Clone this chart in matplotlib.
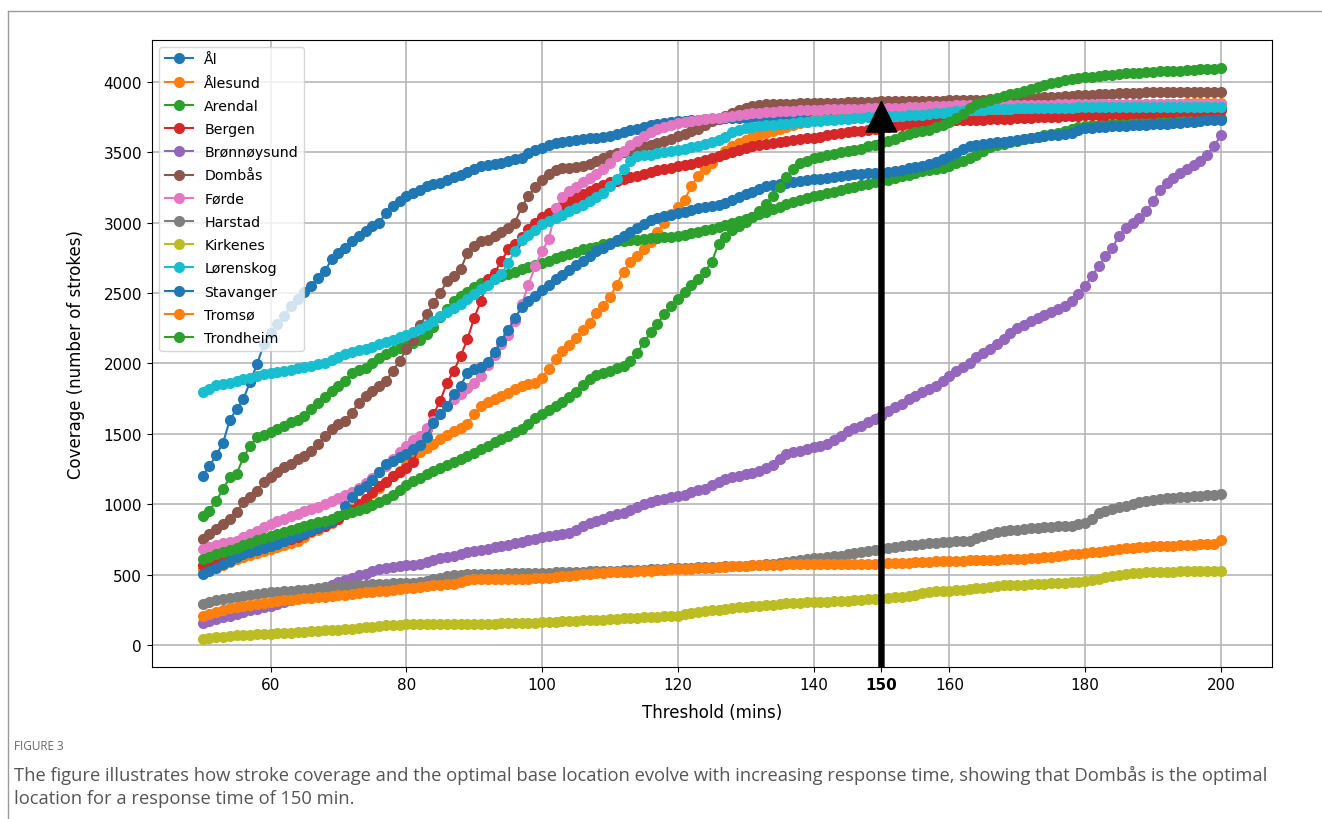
import numpy as np
import matplotlib
matplotlib.use('Agg')
from matplotlib import pyplot as plt
from matplotlib.lines import Line2D

minutes = np.arange(50, 201)

stations = ['Ål', 'Ålesund', 'Arendal', 'Bergen', 'Brønnøysund', 'Dombås', 'Førde',
            'Harstad', 'Kirkenes', 'Lørenskog', 'Stavanger', 'Tromsø', 'Trondheim']

# coverage (number of strokes) per threshold minute, 50..200
al = [1204, 1274, 1350, 1437, 1600, 1676, 1747, 1872, 1994, 2136,
      2219, 2278, 2337, 2407, 2455, 2507, 2549, 2608, 2655, 2738,
      2785, 2820, 2868, 2903, 2938, 2974, 2998, 3068, 3115, 3151,
      3186, 3210, 3233, 3257, 3270, 3281, 3300, 3320, 3340, 3360,
      3380, 3398, 3408, 3416, 3424, 3440, 3450, 3460, 3490, 3517,
      3530, 3550, 3564, 3570, 3578, 3585, 3590, 3597, 3603, 3608,
      3613, 3625, 3640, 3655, 3665, 3675, 3690, 3698, 3705, 3712,
      3717, 3722, 3727, 3730, 3733, 3736, 3738, 3740, 3742, 3744,
      3745, 3747, 3748, 3750, 3751, 3752, 3754, 3755, 3757, 3758,
      3760, 3761, 3763, 3764, 3766, 3767, 3769, 3770, 3772, 3773,
      3775, 3776, 3777, 3778, 3779, 3780, 3781, 3782, 3783, 3784,
      3785, 3785, 3786, 3786, 3787, 3787, 3788, 3788, 3789, 3789,
      3790, 3790, 3791, 3791, 3792, 3792, 3793, 3793, 3794, 3794,
      3795, 3795, 3796, 3796, 3797, 3797, 3798, 3798, 3799, 3799,
      3800, 3800, 3801, 3801, 3802, 3802, 3803, 3803, 3804, 3804,
      3805]
alesund = [543, 552, 561, 570, 590, 614, 628, 642, 656, 670,
           685, 700, 715, 730, 744, 770, 803, 820, 845, 870,
           900, 930, 965, 1000, 1040, 1080, 1120, 1160, 1200, 1240,
           1280, 1320, 1369, 1404, 1430, 1464, 1490, 1522, 1545, 1570,
           1640, 1699, 1725, 1747, 1770, 1794, 1820, 1841, 1855, 1865,
           1900, 1960, 2030, 2089, 2130, 2180, 2240, 2290, 2360, 2410,
           2470, 2560, 2650, 2720, 2760, 2810, 2860, 2930, 3000, 3060,
           3110, 3160, 3260, 3330, 3380, 3420, 3470, 3510, 3540, 3564,
           3585, 3605, 3620, 3635, 3650, 3665, 3680, 3695, 3705, 3715,
           3725, 3729, 3733, 3737, 3740, 3743, 3747, 3751, 3755, 3758,
           3760, 3762, 3764, 3766, 3768, 3770, 3772, 3774, 3776, 3778,
           3780, 3782, 3784, 3786, 3788, 3790, 3792, 3794, 3796, 3798,
           3800, 3802, 3804, 3806, 3808, 3810, 3812, 3814, 3816, 3818,
           3820, 3822, 3824, 3826, 3828, 3830, 3832, 3834, 3836, 3838,
           3840, 3841, 3842, 3843, 3844, 3845, 3846, 3847, 3848, 3849,
           3850]
arendal = [920, 956, 1027, 1109, 1192, 1216, 1334, 1416, 1475, 1492,
           1511, 1534, 1558, 1582, 1600, 1628, 1676, 1723, 1759, 1805,
           1841, 1876, 1936, 1954, 1971, 2006, 2042, 2065, 2090, 2110,
           2125, 2145, 2170, 2210, 2260, 2330, 2390, 2440, 2478, 2510,
           2540, 2573, 2590, 2605, 2620, 2636, 2652, 2667, 2683, 2699,
           2714, 2730, 2745, 2761, 2777, 2793, 2809, 2820, 2830, 2845,
           2858, 2868, 2872, 2875, 2879, 2883, 2887, 2891, 2895, 2899,
           2903, 2915, 2925, 2935, 2945, 2952, 2965, 2980, 2995, 3010,
           3025, 3040, 3060, 3075, 3095, 3110, 3130, 3145, 3160, 3175,
           3188, 3198, 3208, 3220, 3232, 3245, 3255, 3265, 3275, 3285,
           3292, 3303, 3315, 3328, 3340, 3352, 3363, 3372, 3381, 3390,
           3398, 3420, 3440, 3460, 3480, 3510, 3535, 3550, 3560, 3572,
           3582, 3590, 3600, 3610, 3620, 3628, 3636, 3650, 3665, 3680,
           3685, 3690, 3693, 3696, 3700, 3703, 3706, 3710, 3714, 3718,
           3722, 3725, 3728, 3731, 3734, 3736, 3737, 3738, 3739, 3740,
           3742]
bergen = [570, 585, 600, 615, 630, 645, 660, 672, 685, 697,
          710, 725, 740, 755, 770, 790, 810, 830, 850, 875,
          900, 930, 960, 1000, 1040, 1090, 1130, 1160, 1200, 1230,
          1260, 1300, 1430, 1534, 1640, 1734, 1865, 1947, 2053, 2171,
          2325, 2443, 2596, 2643, 2726, 2809, 2850, 2900, 2955, 3000,
          3040, 3070, 3095, 3120, 3150, 3175, 3200, 3222, 3245, 3265,
          3285, 3298, 3310, 3320, 3330, 3345, 3358, 3370, 3380, 3390,
          3400, 3408, 3418, 3430, 3445, 3458, 3469, 3485, 3500, 3517,
          3530, 3540, 3550, 3558, 3564, 3570, 3578, 3585, 3590, 3597,
          3603, 3610, 3618, 3626, 3634, 3640, 3646, 3652, 3658, 3664,
          3670, 3675, 3682, 3690, 3697, 3703, 3706, 3710, 3714, 3718,
          3722, 3724, 3726, 3728, 3729, 3730, 3732, 3734, 3736, 3738,
          3740, 3742, 3744, 3746, 3748, 3750, 3752, 3754, 3756, 3758,
          3760, 3762, 3764, 3766, 3768, 3770, 3772, 3774, 3776, 3778,
          3780, 3782, 3784, 3786, 3788, 3790, 3792, 3794, 3796, 3798,
          3800]
bronnoysund = [160, 170, 185, 200, 212, 224, 236, 248, 260, 272,
               283, 295, 310, 325, 340, 355, 370, 385, 400, 425,
               449, 465, 480, 496, 510, 525, 540, 550, 558, 563,
               568, 573, 578, 590, 605, 620, 630, 637, 648, 660,
               670, 678, 685, 695, 705, 715, 725, 735, 745, 757,
               767, 775, 783, 791, 799, 820, 845, 865, 885, 900,
               915, 930, 940, 960, 980, 1000, 1015, 1030, 1040, 1050,
               1060, 1070, 1085, 1100, 1110, 1135, 1160, 1180, 1195, 1205,
               1215, 1225, 1240, 1260, 1280, 1320, 1355, 1370, 1382, 1392,
               1405, 1418, 1430, 1455, 1485, 1520, 1540, 1560, 1582, 1605,
               1628, 1660, 1688, 1715, 1745, 1770, 1795, 1820, 1841, 1875,
               1912, 1945, 1975, 2006, 2045, 2075, 2105, 2136, 2175, 2215,
               2250, 2275, 2300, 2325, 2345, 2365, 2384, 2405, 2440, 2490,
               2549, 2620, 2690, 2761, 2820, 2903, 2962, 2995, 3030, 3080,
               3151, 3233, 3281, 3316, 3350, 3380, 3410, 3440, 3481, 3540,
               3618]
dombas = [755, 791, 826, 860, 897, 944, 1015, 1051, 1097, 1157,
          1192, 1227, 1263, 1286, 1322, 1345, 1381, 1428, 1487, 1534,
          1570, 1593, 1652, 1723, 1770, 1805, 1841, 1876, 1947, 2018,
          2100, 2170, 2270, 2350, 2430, 2500, 2584, 2620, 2667, 2785,
          2832, 2868, 2879, 2903, 2930, 2960, 3000, 3110, 3190, 3250,
          3300, 3345, 3370, 3385, 3390, 3394, 3398, 3415, 3440, 3460,
          3478, 3492, 3503, 3515, 3528, 3540, 3552, 3564, 3580, 3595,
          3611, 3630, 3650, 3665, 3690, 3717, 3735, 3755, 3775, 3795,
          3812, 3825, 3835, 3838, 3840, 3842, 3843, 3844, 3845, 3846,
          3847, 3848, 3849, 3850, 3851, 3852, 3854, 3856, 3857, 3858,
          3859, 3859, 3860, 3860, 3861, 3861, 3862, 3863, 3864, 3865,
          3866, 3867, 3868, 3870, 3871, 3872, 3874, 3876, 3878, 3880,
          3881, 3882, 3884, 3886, 3888, 3890, 3894, 3897, 3900, 3903,
          3906, 3908, 3910, 3912, 3914, 3916, 3918, 3920, 3922, 3924,
          3925, 3925, 3925, 3926, 3926, 3926, 3927, 3927, 3927, 3928,
          3928]
forde = [685, 700, 712, 724, 735, 744, 768, 792, 815, 840,
         862, 880, 897, 915, 932, 950, 968, 985, 1003, 1025,
         1045, 1065, 1086, 1120, 1155, 1190, 1227, 1275, 1320, 1370,
         1416, 1455, 1487, 1540, 1590, 1640, 1700, 1747, 1785, 1825,
         1865, 1912, 1990, 2060, 2140, 2200, 2300, 2420, 2560, 2690,
         2800, 2880, 3100, 3180, 3225, 3255, 3285, 3315, 3345, 3380,
         3420, 3470, 3510, 3550, 3580, 3615, 3640, 3665, 3680, 3693,
         3705, 3714, 3722, 3729, 3735, 3740, 3745, 3750, 3757, 3764,
         3770, 3776, 3780, 3783, 3786, 3788, 3790, 3793, 3796, 3798,
         3800, 3801, 3802, 3803, 3804, 3805, 3807, 3809, 3810, 3811,
         3812, 3813, 3815, 3816, 3818, 3820, 3822, 3824, 3826, 3828,
         3830, 3831, 3832, 3833, 3833, 3834, 3834, 3835, 3835, 3836,
         3836, 3836, 3837, 3837, 3837, 3837, 3838, 3838, 3838, 3838,
         3838, 3839, 3839, 3839, 3839, 3839, 3839, 3839, 3840, 3840,
         3840, 3840, 3840, 3840, 3840, 3840, 3840, 3840, 3840, 3840,
         3840]
harstad = [295, 305, 319, 328, 336, 343, 350, 357, 365, 372,
           378, 381, 384, 387, 390, 396, 402, 408, 413, 416,
           419, 422, 425, 428, 430, 433, 435, 437, 440, 442,
           444, 446, 448, 458, 468, 480, 490, 496, 500, 503,
           505, 507, 508, 509, 510, 511, 512, 513, 514, 515,
           516, 517, 519, 520, 521, 522, 523, 525, 526, 527,
           528, 530, 532, 534, 536, 538, 540, 542, 544, 546,
           548, 550, 551, 553, 555, 556, 558, 560, 562, 564,
           566, 568, 572, 576, 580, 586, 592, 600, 608, 615,
           619, 623, 628, 633, 637, 645, 652, 660, 670, 678,
           685, 690, 698, 705, 710, 715, 720, 724, 728, 732,
           736, 740, 742, 744, 760, 775, 790, 802, 814, 818,
           822, 826, 830, 834, 838, 842, 845, 848, 850, 860,
           870, 900, 940, 956, 968, 980, 992, 1003, 1015, 1025,
           1035, 1039, 1043, 1047, 1051, 1055, 1059, 1062, 1065, 1068,
           1072]
kirkenes = [47, 52, 57, 62, 67, 71, 73, 76, 79, 81,
            83, 86, 88, 91, 94, 97, 100, 103, 106, 109,
            112, 115, 118, 123, 128, 133, 138, 142, 145, 148,
            150, 152, 153, 153, 153, 154, 154, 154, 154, 155,
            155, 155, 155, 155, 156, 156, 156, 157, 158, 160,
            165, 167, 169, 171, 173, 175, 177, 179, 181, 183,
            186, 189, 191, 193, 195, 198, 201, 204, 207, 210,
            212, 220, 228, 236, 242, 248, 254, 260, 266, 270,
            272, 276, 280, 285, 290, 295, 298, 301, 304, 306,
            307, 309, 311, 313, 315, 318, 320, 323, 326, 329,
            331, 335, 340, 343, 350, 360, 370, 378, 384, 387,
            389, 392, 396, 400, 405, 410, 415, 420, 425, 428,
            430, 432, 434, 436, 438, 440, 443, 446, 449, 452,
            455, 462, 470, 484, 492, 500, 506, 512, 516, 520,
            522, 523, 524, 524, 525, 525, 526, 526, 527, 527,
            527]
lorenskog = [1798, 1822, 1846, 1855, 1865, 1876, 1888, 1900, 1912, 1925,
             1935, 1941, 1947, 1955, 1965, 1975, 1985, 1995, 2006, 2025,
             2045, 2065, 2085, 2095, 2105, 2120, 2135, 2150, 2165, 2185,
             2200, 2220, 2242, 2270, 2300, 2336, 2365, 2392, 2419, 2455,
             2490, 2526, 2560, 2596, 2632, 2714, 2797, 2879, 2910, 2950,
             2990, 3010, 3030, 3055, 3080, 3105, 3128, 3150, 3180, 3210,
             3260, 3310, 3380, 3440, 3472, 3477, 3481, 3490, 3498, 3505,
             3515, 3525, 3535, 3540, 3555, 3570, 3585, 3610, 3640, 3658,
             3668, 3676, 3684, 3690, 3694, 3698, 3702, 3706, 3710, 3714,
             3717, 3721, 3725, 3729, 3733, 3737, 3740, 3744, 3747, 3750,
             3752, 3754, 3756, 3758, 3760, 3762, 3764, 3770, 3775, 3780,
             3785, 3790, 3792, 3795, 3798, 3800, 3802, 3804, 3806, 3808,
             3810, 3812, 3813, 3814, 3814, 3815, 3815, 3816, 3816, 3817,
             3817, 3818, 3818, 3819, 3819, 3819, 3820, 3820, 3820, 3821,
             3821, 3821, 3821, 3822, 3822, 3822, 3822, 3822, 3823, 3823,
             3823]
stavanger = [508, 530, 550, 575, 600, 625, 645, 660, 675, 690,
             705, 720, 740, 760, 780, 800, 820, 840, 860, 885,
             920, 990, 1050, 1100, 1130, 1170, 1230, 1286, 1310, 1335,
             1360, 1390, 1420, 1480, 1580, 1640, 1700, 1782, 1841, 1936,
             1959, 1975, 2010, 2080, 2160, 2240, 2320, 2400, 2440, 2480,
             2520, 2560, 2600, 2630, 2665, 2700, 2730, 2765, 2795, 2820,
             2850, 2875, 2905, 2930, 2960, 2990, 3015, 3035, 3045, 3055,
             3065, 3078, 3090, 3100, 3110, 3120, 3128, 3140, 3160, 3180,
             3200, 3220, 3240, 3257, 3265, 3275, 3283, 3290, 3296, 3302,
             3306, 3312, 3318, 3325, 3333, 3340, 3343, 3346, 3348, 3350,
             3352, 3358, 3366, 3375, 3385, 3393, 3400, 3415, 3430, 3450,
             3470, 3495, 3520, 3540, 3550, 3557, 3563, 3568, 3574, 3580,
             3585, 3590, 3597, 3604, 3612, 3618, 3624, 3630, 3637, 3655,
             3670, 3673, 3676, 3679, 3682, 3685, 3688, 3690, 3692, 3694,
             3696, 3698, 3701, 3704, 3708, 3712, 3716, 3720, 3724, 3727,
             3730]
tromso = [212, 225, 238, 250, 262, 272, 280, 288, 295, 301,
          307, 313, 319, 325, 331, 334, 337, 340, 343, 349,
          355, 360, 366, 371, 376, 380, 385, 389, 394, 399,
          404, 408, 412, 420, 428, 430, 433, 437, 450, 462,
          472, 472, 472, 473, 473, 473, 474, 474, 474, 475,
          475, 480, 485, 490, 495, 500, 505, 508, 512, 516,
          518, 520, 522, 524, 526, 528, 530, 533, 536, 540,
          543, 543, 545, 548, 550, 552, 555, 558, 561, 563,
          566, 568, 570, 571, 572, 573, 574, 575, 576, 577,
          578, 578, 578, 579, 579, 579, 579, 580, 580, 580,
          580, 582, 584, 586, 588, 590, 592, 594, 596, 598,
          600, 601, 602, 604, 605, 606, 607, 608, 610, 612,
          614, 614, 618, 622, 626, 630, 636, 640, 645, 650,
          655, 660, 665, 672, 680, 685, 690, 694, 697, 700,
          702, 704, 706, 708, 710, 712, 714, 716, 718, 722,
          750]
trondheim = [614, 630, 645, 660, 675, 690, 710, 728, 745, 762,
             779, 792, 805, 818, 832, 845, 858, 872, 885, 900,
             915, 930, 944, 960, 975, 995, 1015, 1040, 1070, 1100,
             1140, 1165, 1190, 1215, 1240, 1260, 1280, 1300, 1322, 1345,
             1368, 1392, 1415, 1440, 1464, 1488, 1512, 1534, 1570, 1610,
             1640, 1670, 1700, 1725, 1760, 1800, 1850, 1890, 1915, 1935,
             1950, 1965, 1985, 2020, 2072, 2150, 2220, 2280, 2350, 2407,
             2460, 2510, 2560, 2600, 2650, 2720, 2850, 2900, 2945, 2975,
             3005, 3040, 3080, 3130, 3190, 3250, 3320, 3380, 3420, 3440,
             3458, 3468, 3478, 3488, 3497, 3505, 3515, 3525, 3540, 3552,
             3564, 3580, 3596, 3611, 3625, 3640, 3650, 3660, 3675, 3690,
             3710, 3740, 3770, 3810, 3840, 3858, 3870, 3885, 3900, 3910,
             3920, 3930, 3945, 3960, 3975, 3990, 4000, 4010, 4020, 4025,
             4030, 4035, 4040, 4045, 4050, 4055, 4058, 4061, 4064, 4067,
             4070, 4072, 4074, 4076, 4078, 4080, 4083, 4086, 4089, 4092,
             4095]

coverage = [al, alesund, arendal, bergen, bronnoysund, dombas, forde,
            harstad, kirkenes, lorenskog, stavanger, tromso, trondheim]

xticks = [60, 80, 100, 120, 140, 150, 160, 180, 200]
yticks = [0, 500, 1000, 1500, 2000, 2500, 3000, 3500, 4000]
optimal_minute = 150
optimal_station = 'Dombås'

caption_head = 'FIGURE 3'
caption_lines = ['The figure illustrates how stroke coverage and the optimal base location evolve '
                 'with increasing response time, showing that Dombås is the optimal',
                 'location for a response time of 150 min.']


def draw_chart(fig):
    ax = fig.add_axes([0.1148, 0.185, 0.8472, 0.7654])
    for name, values in zip(stations, coverage):
        ax.plot(minutes, values, marker='o', markersize=7, linewidth=1.5, label=name)

    ax.set_xticks(xticks)
    ax.set_yticks(yticks)
    ax.tick_params(labelsize=11)
    for lab in ax.get_xticklabels():
        if lab.get_text() == str(optimal_minute):
            lab.set_fontweight('bold')
    ax.grid(True, color='#b0b0b0', linewidth=1.1)
    ax.set_axisbelow(True)
    ax.set_xlabel('Threshold (mins)', fontsize=12, labelpad=8)
    ax.set_ylabel('Coverage (number of strokes)', fontsize=12, labelpad=13)
    ax.legend(loc='upper left', fontsize=10.2, labelspacing=0.65)

    ymin, ymax = ax.get_ylim()
    ax.set_ylim(ymin, ymax)
    tip = coverage[stations.index(optimal_station)][optimal_minute - minutes[0]]
    ax.annotate('', xy=(optimal_minute, tip), xytext=(optimal_minute, ymin),
                arrowprops=dict(facecolor='black', edgecolor='black', width=3.6,
                                headwidth=22, headlength=22, shrink=0.0))
    return ax


def draw_caption(fig):
    W, H = fig.get_size_inches() * fig.dpi
    fig.text(14 / W, 1 - 746 / H, caption_head, family='Open Sans', fontsize=8.5,
             color='#666666', va='center', ha='left')
    texts = []
    for i, line in enumerate(caption_lines):
        t = fig.text(14 / W, 1 - (775 + 24 * i) / H, line, family='Open Sans',
                     fontsize=12, color='#555555', va='center', ha='left')
        texts.append(t)
    # fit the first caption line to the page width used in the reference
    fig.canvas.draw()
    width = texts[0].get_window_extent().width
    size = 12 * 1248 / width
    for t in texts:
        t.set_fontsize(size)

    # page frame lines
    fig.add_artist(Line2D([8 / W, 1], [1 - 12 / H, 1 - 12 / H], color='#9a9a9a', linewidth=1))
    fig.add_artist(Line2D([8 / W, 8 / W], [0, 1 - 12 / H], color='#9a9a9a', linewidth=1))


def main():
    fig = plt.figure(figsize=(13.22, 8.2), dpi=100)
    draw_chart(fig)
    draw_caption(fig)
    fig.savefig('out.png', dpi=100)


if __name__ == '__main__':
    main()
